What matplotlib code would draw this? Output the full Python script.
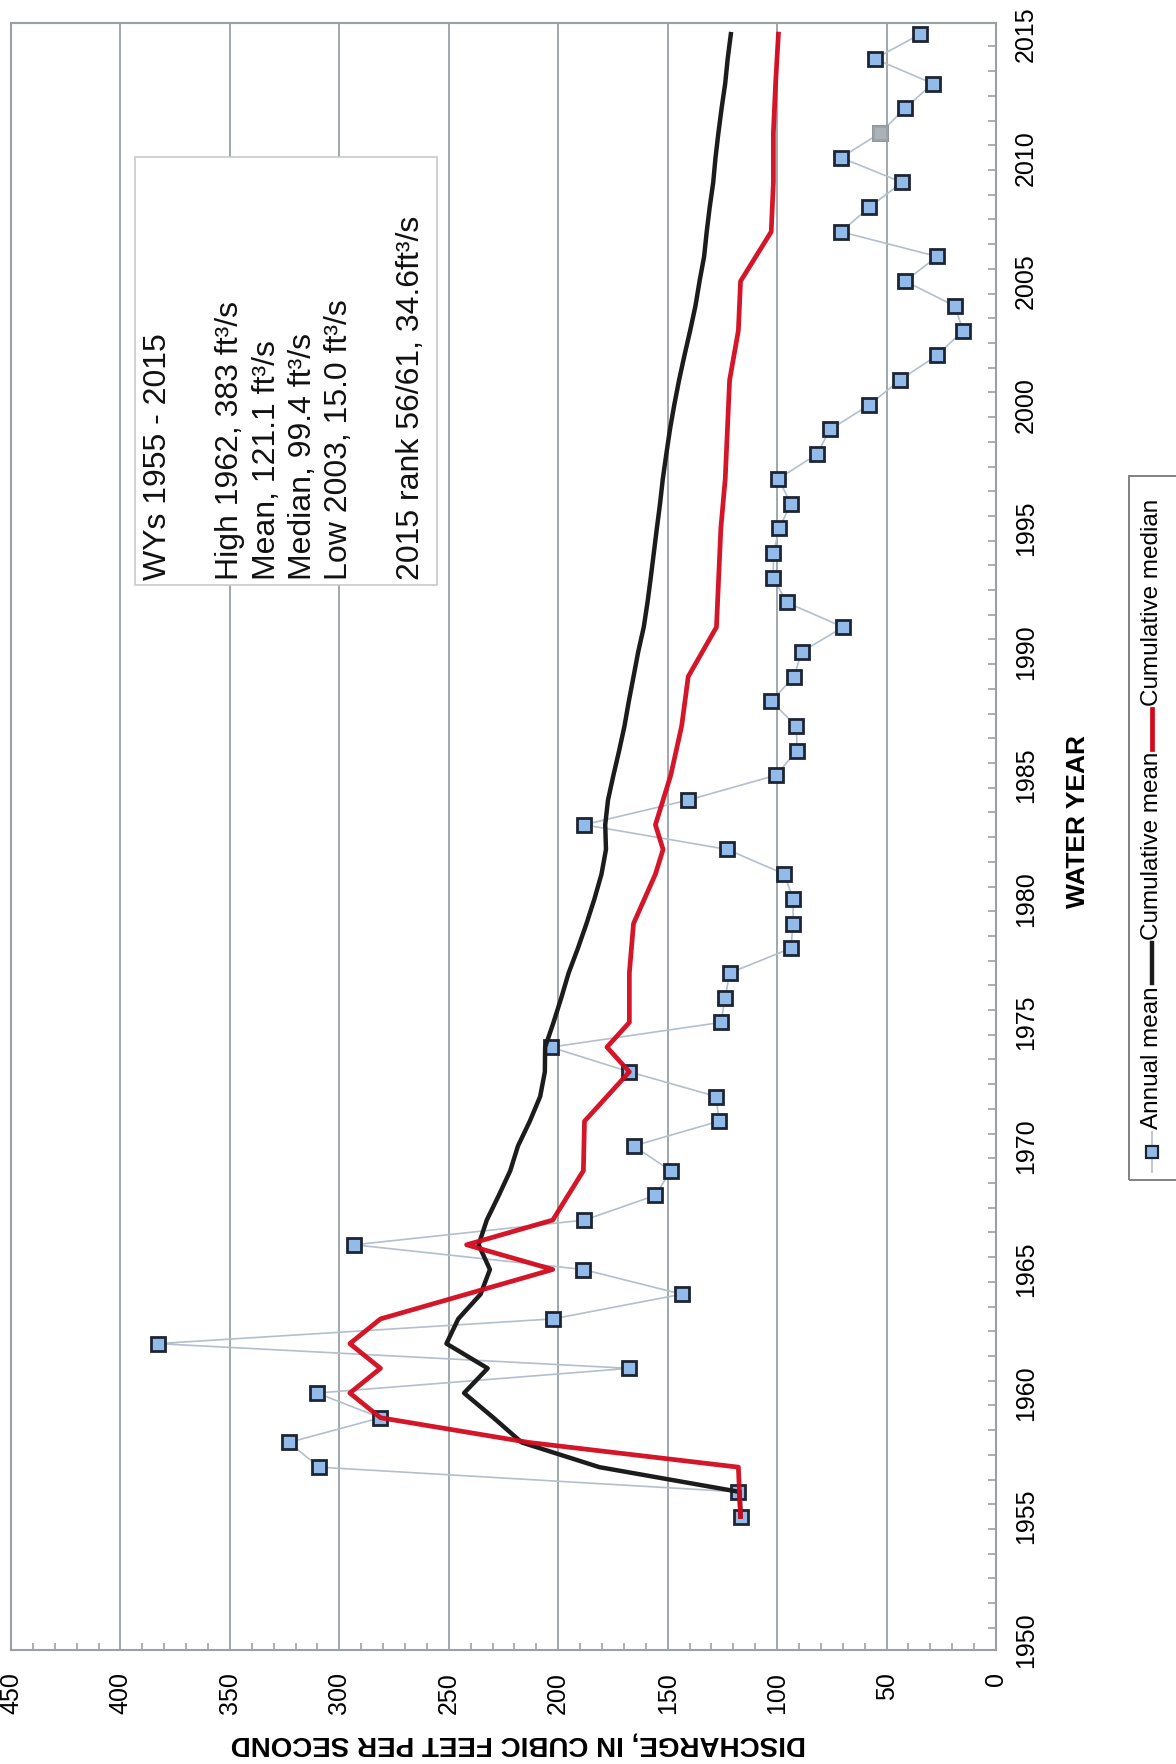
import numpy as np
import pandas as pd
import matplotlib
matplotlib.use('Agg')
import matplotlib.pyplot as plt
from matplotlib.patches import Rectangle
from matplotlib.lines import Line2D

plt.rcParams['font.family'] = ['Liberation Sans', 'DejaVu Sans']

# annual mean discharge, ft3/s, water years 1955-2015
water_year = list(range(1955, 2016))
annual_mean = [116.7, 117.7, 309.2, 323.1, 281.2, 310.2, 167.5, 383.0, 202.5, 143.6,
               188.5, 293.2, 188.0, 155.6, 148.6, 165.6, 126.7, 127.7, 167.5, 203.4,
               125.7, 123.7, 121.7, 93.7, 92.7, 92.7, 96.7, 122.7, 188.2, 140.6,
               100.7, 90.8, 91.3, 102.7, 92.2, 88.8, 69.8, 95.7, 101.7, 101.7,
               99.0, 93.7, 99.4, 81.8, 75.8, 57.8, 43.9, 26.9, 15.0, 18.9,
               41.5, 26.9, 70.8, 57.8, 42.9, 70.8, 52.9, 41.5, 28.9, 55.4,
               34.6]
provisional_year = 2011

discharge_ticks = list(range(0, 451, 50))
year_ticks = list(range(1950, 2016, 5))

summary_lines = ['WYs 1955 - 2015', '',
                 'High 1962, 383 ft\u00b3/s',
                 'Mean, 121.1 ft\u00b3/s',
                 'Median, 99.4 ft\u00b3/s',
                 'Low 2003, 15.0 ft\u00b3/s', '',
                 '2015 rank 56/61, 34.6ft\u00b3/s']
legend_labels = ['Annual mean', 'Cumulative mean', 'Cumulative median']

flow = pd.Series(annual_mean, index=water_year)
cum_mean = flow.expanding().mean()
cum_median = flow.expanding().median()

W, H = 1176, 1764
fy = lambda y: 1 - y / H
grid_c = '#9aa1a5'
pt_c = '#93bbe9'
edge_c = '#1d2535'
link_c = '#b3bfcc'
black_c = '#1c1c1c'
red_c = '#d2091c'

fig = plt.figure(figsize=(W / 100, H / 100), dpi=100)
ax = fig.add_axes([11 / W, fy(1650), 985 / W, 1627 / H])

# year runs up the page, discharge runs right-to-left
ax.plot(flow.values, flow.index, '-', color=link_c, lw=1.2, zorder=3)
ax.plot(flow.values, flow.index, 's', ms=9.5, mfc=pt_c, mec=edge_c, mew=2.0, zorder=4)
ax.plot(flow[provisional_year], provisional_year, 's', ms=9.5, mfc='#a9b3b8',
        mec='#9aa3a8', mew=2.0, zorder=4)
ax.plot(cum_mean.values, cum_mean.index, color=black_c, lw=3.2, zorder=5)
ax.plot(cum_median.values, cum_median.index, color=red_c, lw=3.4, alpha=0.95, zorder=6)

ax.set_xlim(450, 0)
ax.set_ylim(1949.6, 2015.45)
ax.set_xticks(discharge_ticks)
ax.set_xticks(np.arange(0, 451, 10), minor=True)
ax.xaxis.grid(True, which='major', color=grid_c, lw=1.3)
ax.tick_params(axis='x', which='major', length=0, labelsize=18, labelrotation=90, pad=16)
ax.tick_params(axis='x', which='minor', direction='in', length=5, color=grid_c, width=1.2)

ax.yaxis.tick_right()
ax.set_yticks(year_ticks)
ax.set_yticks(np.arange(1950.5, 2015, 1), minor=True)
ax.tick_params(axis='y', which='major', length=0, labelsize=18, labelrotation=90, pad=13)
ax.tick_params(axis='y', which='minor', direction='in', length=6, color=grid_c, width=1.2)
for lab in ax.get_yticklabels():
    lab.set_va('center')
for s in ax.spines.values():
    s.set_color(grid_c)
    s.set_linewidth(1.5)

# summary box
ax.add_patch(Rectangle((0.1259, 0.6546), 0.3066, 0.263, transform=ax.transAxes,
                       facecolor='white', edgecolor='#c9c9c9', lw=1.2, zorder=2))
ax.text(0.134, 0.6577, '\n'.join(summary_lines), transform=ax.transAxes,
        rotation=90, ha='left', va='bottom', multialignment='left',
        fontsize=23, linespacing=1.27, color='#111111', zorder=7)

fig.text(1078 / W, fy(822), 'WATER YEAR', rotation=90, ha='center', va='center',
         fontsize=19, fontweight='bold')
fig.text(518 / W, fy(1743), 'DISCHARGE, IN CUBIC FEET PER SECOND', rotation=180,
         ha='center', va='center', fontsize=20, fontweight='bold')

# legend, stacked bottom to top
fig.add_artist(Rectangle((1129 / W, fy(1180)), 80 / W, 704 / H, transform=fig.transFigure,
                         fill=False, edgecolor='#777777', lw=1.3))
renderer = fig.canvas.get_renderer()
leg_x = 1152 / W
y_px = 1172
styles = [dict(color=link_c, lw=1.2), dict(color=black_c, lw=3.2), dict(color=red_c, lw=3.4)]
for i, (label, st) in enumerate(zip(legend_labels, styles)):
    y0, y1 = y_px, y_px - 40
    fig.add_artist(Line2D([leg_x, leg_x], [fy(y0), fy(y1)], transform=fig.transFigure, **st))
    if i == 0:
        fig.add_artist(Line2D([leg_x], [fy((y0 + y1) / 2)], marker='s', ms=8, mfc=pt_c,
                              mec=edge_c, mew=1.6, transform=fig.transFigure))
    t = fig.text(leg_x, fy(y1 - 3), label, rotation=90, ha='center', va='bottom', fontsize=17.5)
    bb = t.get_window_extent(renderer)
    y_px = H - bb.y1 - 3

fig.savefig('out.png', dpi=100)
